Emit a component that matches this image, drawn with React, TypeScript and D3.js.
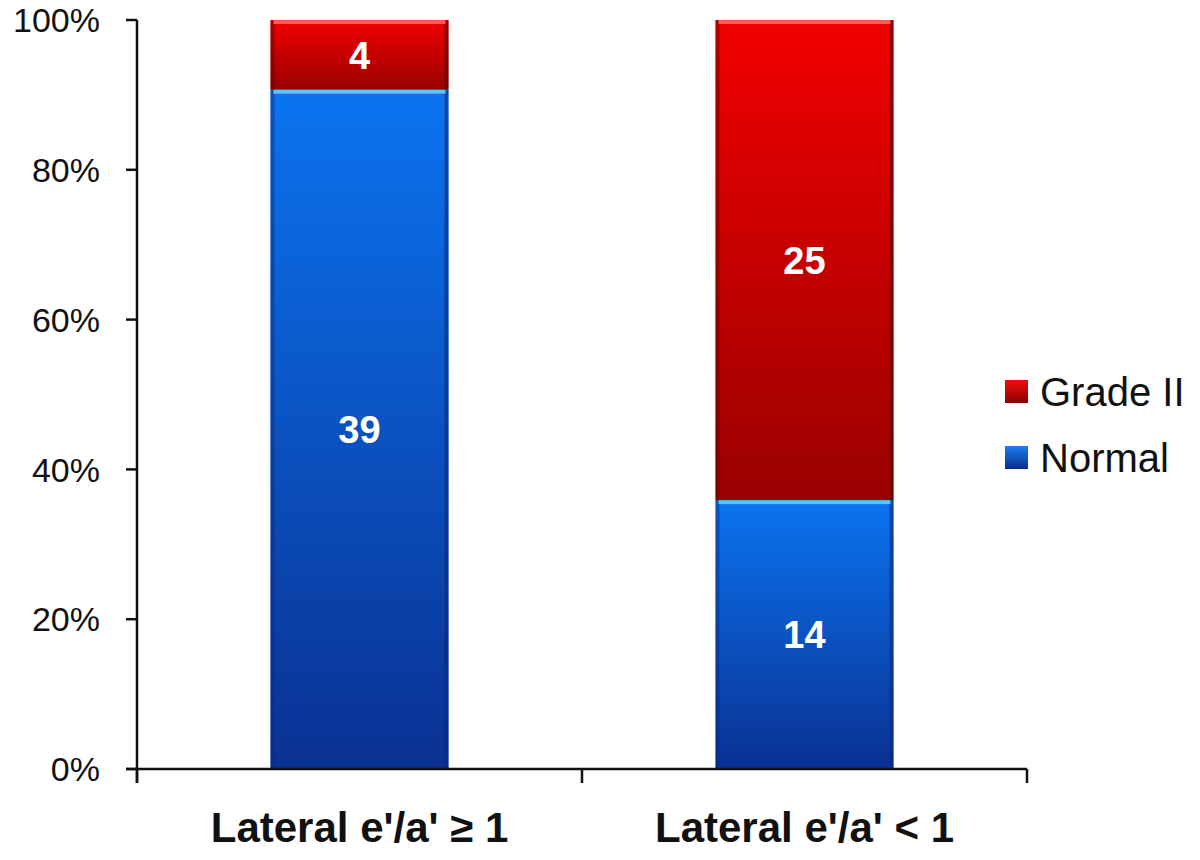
import React, { useEffect, useRef } from 'react'
import * as d3 from 'd3'

const categories = ["Lateral e'/a' ≥ 1", "Lateral e'/a' < 1"]
const seriesNames = ['Normal', 'Grade II']
const normalCounts = [39, 14]
const gradeIICounts = [4, 25]
const tickValues = [0, 0.2, 0.4, 0.6, 0.8, 1]

const App = () => {
	const ref = useRef<SVGSVGElement>(null)

	useEffect(() => {
		const svg = d3.select(ref.current)
		svg.selectAll('*').remove()

		const left = 137,
			right = 1027,
			top = 20,
			bottom = 769

		const defs = svg.append('defs')
		const grad = (id, c1, c2) => {
			const g = defs
				.append('linearGradient')
				.attr('id', id)
				.attr('x1', 0)
				.attr('y1', 0)
				.attr('x2', 0)
				.attr('y2', 1)
			g.append('stop').attr('offset', '0%').attr('stop-color', c1)
			g.append('stop').attr('offset', '100%').attr('stop-color', c2)
		}
		grad('blueGrad', '#0b74f0', '#0a3192')
		grad('redGrad', '#f20000', '#9a0000')
		grad('blueLeg', '#1a7ff0', '#0a2e8c')
		grad('redLeg', '#f01010', '#8a0000')

		const x = d3.scaleBand().domain(categories).range([left, right]).paddingInner(0.6).paddingOuter(0.3)
		const y = d3.scaleLinear().domain([0, 1]).range([bottom, top])

		const rows = categories.map((c, i) => ({
			cat: c,
			Normal: normalCounts[i],
			'Grade II': gradeIICounts[i],
		}))
		const stack = d3.stack().keys(seriesNames).offset(d3.stackOffsetExpand)
		const layers = stack(rows)

		const colors = {
			Normal: { fill: 'url(#blueGrad)', top: '#58c6ff', edge: '#062a80' },
			'Grade II': { fill: 'url(#redGrad)', top: '#ff5a5a', edge: '#5a0000' },
		}

		layers.forEach(layer => {
			const key = layer.key
			const g = svg.append('g')
			layer.forEach((d, i) => {
				const x0 = x(categories[i])
				const bw = x.bandwidth()
				const y0 = y(d[1]),
					y1 = y(d[0])
				g.append('rect')
					.attr('x', x0)
					.attr('y', y0)
					.attr('width', bw)
					.attr('height', y1 - y0)
					.attr('fill', colors[key].fill)
				// bevel edges
				g.append('rect')
					.attr('x', x0)
					.attr('y', y0)
					.attr('width', 4)
					.attr('height', y1 - y0)
					.attr('fill', colors[key].edge)
					.attr('opacity', 0.45)
				g.append('rect')
					.attr('x', x0 + bw - 4)
					.attr('y', y0)
					.attr('width', 4)
					.attr('height', y1 - y0)
					.attr('fill', colors[key].edge)
					.attr('opacity', 0.6)
				g.append('rect')
					.attr('x', x0 + 3)
					.attr('y', y0)
					.attr('width', bw - 6)
					.attr('height', 4)
					.attr('fill', colors[key].top)
				g.append('text')
					.attr('x', x0 + bw / 2)
					.attr('y', (y0 + y1) / 2)
					.attr('dy', '0.36em')
					.attr('text-anchor', 'middle')
					.attr('fill', 'white')
					.style('font-family', '"Liberation Sans", Arial, sans-serif')
					.style('font-weight', 'bold')
					.style('font-size', '38px')
					.text(d.data[key])
			})
		})

		// y axis
		const ya = svg.append('g').attr('transform', `translate(${left},0)`)
		ya.append('line').attr('x1', 0).attr('x2', 0).attr('y1', top).attr('y2', bottom + 14).attr('stroke', '#111').attr('stroke-width', 2.5)
		tickValues.forEach(t => {
			ya.append('line').attr('x1', -11).attr('x2', 0).attr('y1', y(t)).attr('y2', y(t)).attr('stroke', '#111').attr('stroke-width', 2.5)
			ya.append('text')
				.attr('x', -37)
				.attr('y', y(t))
				.attr('dy', '0.36em')
				.attr('text-anchor', 'end')
				.attr('fill', '#111')
				.style('font-family', '"Liberation Sans", Arial, sans-serif')
				.style('font-size', '34px')
				.text(d3.format('.0%')(t))
		})

		// x axis
		const xa = svg.append('g')
		xa.append('line').attr('x1', left - 11).attr('x2', right).attr('y1', bottom).attr('y2', bottom).attr('stroke', '#111').attr('stroke-width', 2.5)
		const bounds = [left, left + (right - left) / 2, right]
		bounds.forEach(b => {
			xa.append('line').attr('x1', b).attr('x2', b).attr('y1', bottom).attr('y2', bottom + 14).attr('stroke', '#111').attr('stroke-width', 2.5)
		})
		categories.forEach(c => {
			xa.append('text')
				.attr('x', x(c) + x.bandwidth() / 2)
				.attr('y', 842)
				.attr('text-anchor', 'middle')
				.attr('fill', '#111')
				.style('font-family', '"Liberation Sans", Arial, sans-serif')
				.style('font-weight', 'bold')
				.style('font-size', '42px')
				.text(c)
		})

		// legend
		const legend = [
			{ name: 'Grade II', fill: 'url(#redLeg)', y: 392 },
			{ name: 'Normal', fill: 'url(#blueLeg)', y: 458 },
		]
		const lg = svg.append('g')
		legend.forEach(l => {
			lg.append('rect').attr('x', 1005).attr('y', l.y - 12).attr('width', 23).attr('height', 23).attr('fill', l.fill)
			lg.append('text')
				.attr('x', 1040)
				.attr('y', l.y)
				.attr('dy', '0.36em')
				.attr('fill', '#111')
				.style('font-family', '"Liberation Sans", Arial, sans-serif')
				.style('font-size', '40px')
				.text(l.name)
		})
	}, [])

	return <svg ref={ref} width={1200} height={860} style={{ position: 'absolute', left: 0, top: 0, background: 'white' }}></svg>
}

export default App
